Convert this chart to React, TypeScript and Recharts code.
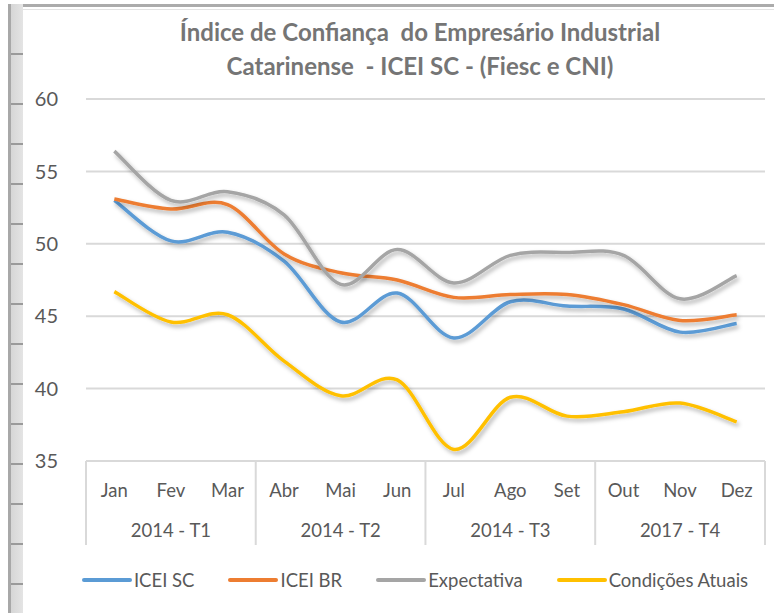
import React from 'react';
import { LineChart, Line, XAxis, YAxis, CartesianGrid } from 'recharts';

const months = ['Jan', 'Fev', 'Mar', 'Abr', 'Mai', 'Jun', 'Jul', 'Ago', 'Set', 'Out', 'Nov', 'Dez'];
const quarters = ['2014 - T1', '2014 - T2', '2014 - T3', '2017 - T4'];
const iceiSC = [53.0, 50.2, 50.8, 48.8, 44.6, 46.6, 43.5, 46.0, 45.7, 45.5, 43.9, 44.5];
const iceiBR = [53.1, 52.4, 52.7, 49.3, 48.0, 47.5, 46.3, 46.5, 46.5, 45.8, 44.7, 45.1];
const expectativa = [56.4, 53.0, 53.6, 52.0, 47.2, 49.6, 47.3, 49.2, 49.4, 49.2, 46.2, 47.8];
const condicoes = [46.7, 44.6, 45.1, 41.9, 39.5, 40.6, 35.8, 39.4, 38.1, 38.4, 39.0, 37.7];
const yTicks = [35, 40, 45, 50, 55, 60];

const series = [
  { key: 'sc', name: 'ICEI SC', color: '#5B9BD5' },
  { key: 'br', name: 'ICEI BR', color: '#ED7D31' },
  { key: 'exp', name: 'Expectativa', color: '#A5A5A5' },
  { key: 'cond', name: 'Condições Atuais', color: '#FFC000' },
];

const data = months.map((m, i) => ({
  month: m,
  sc: iceiSC[i],
  br: iceiBR[i],
  exp: expectativa[i],
  cond: condicoes[i],
}));

const FONT = 'Lato, "Open Sans", sans-serif';
const GRID = '#d9d9d9';
const HALF = 28.33; // half of a category band

// Excel-like smoothed line (Catmull-Rom as bezier)
const excelSmooth = (ctx: any) => {
  let pts: number[][] = [];
  return {
    areaStart() {},
    areaEnd() {},
    lineStart() {
      pts = [];
    },
    point(x: number, y: number) {
      pts.push([+x, +y]);
    },
    lineEnd() {
      const n = pts.length;
      if (!n) return;
      ctx.moveTo(pts[0][0], pts[0][1]);
      for (let i = 0; i < n - 1; i++) {
        const p0 = pts[Math.max(i - 1, 0)];
        const p1 = pts[i];
        const p2 = pts[i + 1];
        const p3 = pts[Math.min(i + 2, n - 1)];
        ctx.bezierCurveTo(
          p1[0] + (p2[0] - p0[0]) / 6,
          p1[1] + (p2[1] - p0[1]) / 6,
          p2[0] - (p3[0] - p1[0]) / 6,
          p2[1] - (p3[1] - p1[1]) / 6,
          p2[0],
          p2[1]
        );
      }
    },
  };
};

const MonthTick = ({ x, y, payload, index }: any) => {
  const q = Math.floor(index / 3);
  return (
    <g>
      <text x={x} y={y + 36} textAnchor="middle" fill="#595959" fontSize={18.5} fontFamily={FONT}>
        {payload.value}
      </text>
      {index % 3 === 0 && (
        <line x1={x - HALF} x2={x - HALF} y1={y} y2={y + 84} stroke={GRID} strokeWidth={2} />
      )}
      {index === months.length - 1 && (
        <line x1={x + HALF} x2={x + HALF} y1={y} y2={y + 84} stroke={GRID} strokeWidth={2} />
      )}
      {index % 3 === 1 && (
        <text x={x} y={y + 76} textAnchor="middle" fill="#595959" fontSize={18.5} fontFamily={FONT}>
          {quarters[q]}
        </text>
      )}
    </g>
  );
};

const rowTicks = [53, 103, 143, 183, 223, 263, 303, 343, 383, 423, 463, 503, 543, 583];

export default function App() {
  return (
    <div style={{ position: 'absolute', left: 0, top: 0, width: 774, height: 613, background: '#fff', overflow: 'hidden' }}>
      {/* spreadsheet frame */}
      <div style={{ position: 'absolute', left: 8, top: 4, width: 766, height: 3, background: '#ababab' }} />
      <div style={{ position: 'absolute', left: 23, top: 9, width: 751, height: 1, background: '#e3e3e3' }} />
      <div
        style={{
          position: 'absolute',
          left: 8,
          top: 4,
          width: 15,
          height: 609,
          background: 'linear-gradient(to right, #a8a8a8 0, #a8a8a8 3px, #d6d6d6 3px, #e4e4e4 100%)',
        }}
      />
      {rowTicks.map((t) => (
        <div key={t} style={{ position: 'absolute', left: 11, top: t, width: 12, height: 2, background: '#9a9a9a' }} />
      ))}

      {/* title */}
      <div
        style={{
          position: 'absolute',
          left: 25,
          top: 15,
          width: 790,
          textAlign: 'center',
          whiteSpace: 'pre',
          fontFamily: FONT,
          fontWeight: 700,
          fontSize: 24,
          lineHeight: '34px',
          color: '#757575',
        }}
      >
        <div>{'Índice de Confiança  do Empresário Industrial'}</div>
        <div>{'Catarinense  - ICEI SC - (Fiesc e CNI)'}</div>
      </div>

      <div style={{ position: 'absolute', left: 0, top: 0 }}>
        <LineChart width={774} height={613} data={data} margin={{ top: 99, right: 9, bottom: 0, left: 0 }}>
          <defs>
            <filter id="lineShadow" x="-10%" y="-10%" width="120%" height="130%">
              <feDropShadow dx="2" dy="3" stdDeviation="2" floodColor="#000" floodOpacity="0.3" />
            </filter>
          </defs>
          <CartesianGrid vertical={false} stroke={GRID} strokeWidth={2} />
          <XAxis
            dataKey="month"
            padding={{ left: HALF, right: HALF }}
            tickLine={false}
            tickSize={0}
            tickMargin={0}
            axisLine={{ stroke: GRID, strokeWidth: 2 }}
            height={152}
            interval={0}
            tick={<MonthTick />}
          />
          <YAxis
            domain={[35, 60]}
            ticks={yTicks}
            width={86}
            axisLine={false}
            tickLine={false}
            tickMargin={22}
            tick={{ fill: '#595959', fontSize: 20, fontFamily: FONT }}
          />
          {series.map((s) => (
            <Line
              key={s.key}
              dataKey={s.key}
              name={s.name}
              type={excelSmooth as any}
              stroke={s.color}
              strokeWidth={3.5}
              dot={false}
              activeDot={false}
              filter="url(#lineShadow)"
              isAnimationActive={false}
            />
          ))}
        </LineChart>
      </div>

      {/* legend */}
      <div
        style={{
          position: 'absolute',
          left: 0,
          top: 569,
          width: 830,
          display: 'flex',
          justifyContent: 'center',
          gap: 34,
          fontFamily: FONT,
          fontSize: 18.5,
          color: '#595959',
        }}
      >
        {series.map((s) => (
          <div key={s.key} style={{ display: 'flex', alignItems: 'center', gap: 2 }}>
            <div style={{ width: 50, height: 4, borderRadius: 2, background: s.color }} />
            <span>{s.name}</span>
          </div>
        ))}
      </div>
    </div>
  );
}
